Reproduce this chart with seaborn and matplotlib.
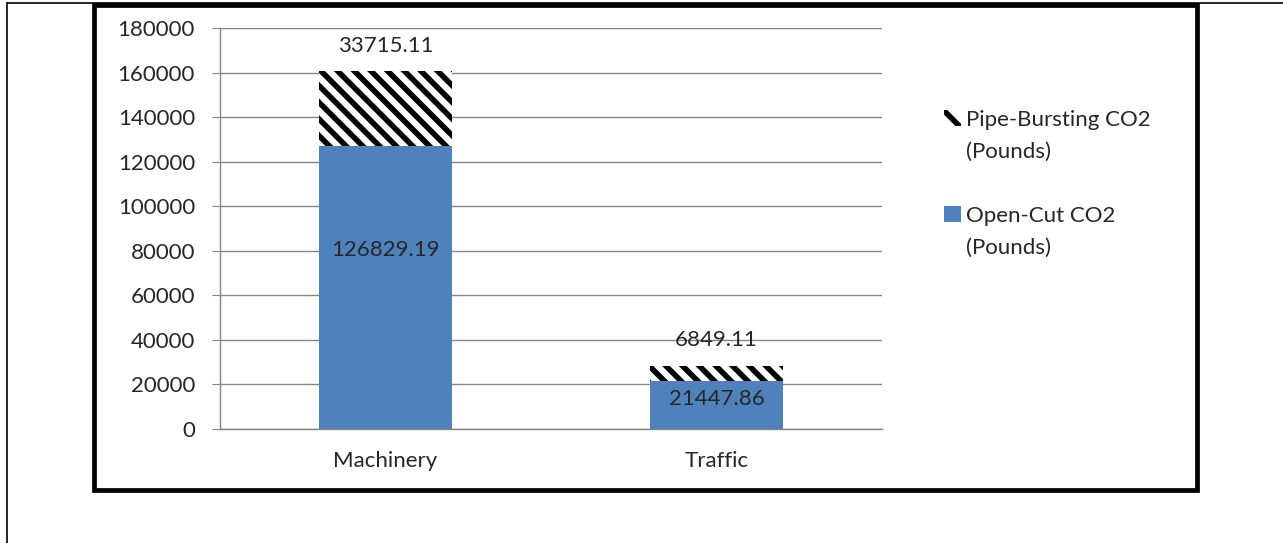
import matplotlib
matplotlib.use("Agg")
import matplotlib.pyplot as plt
from matplotlib.patches import Patch, Rectangle
from matplotlib.lines import Line2D
import pandas as pd
import seaborn as sns

categories = ["Machinery", "Traffic"]
open_cut = [126829.19, 21447.86]
pipe_bursting = [33715.11, 6849.11]
series_names = ["Pipe-Bursting CO2", "Open-Cut CO2"]
unit_label = "(Pounds)"
y_ticks = [0, 20000, 40000, 60000, 80000, 100000, 120000, 140000, 160000, 180000]

BLUE = "#4F81BD"
GRID = "#868686"

sns.set_style("white")
plt.rcParams["font.family"] = ["Lato", "DejaVu Sans"]
plt.rcParams["hatch.linewidth"] = 4.0
plt.rcParams["hatch.color"] = "black"

df = pd.DataFrame({"category": categories, "open": open_cut, "pipe": pipe_bursting})
df["total"] = df["open"] + df["pipe"]

W, H = 1283, 543
fig = plt.figure(figsize=(W / 100, H / 100), dpi=100)
ax = fig.add_axes([220 / W, 1 - 429 / H, (882 - 220) / W, (429 - 28) / H])

# stacked: hatched total underneath, open-cut drawn on top
sns.barplot(data=df, x="category", y="total", color="white", hatch="\\\\",
            edgecolor="black", linewidth=0, width=0.4, saturation=1, ax=ax)
sns.barplot(data=df, x="category", y="open", color=BLUE, linewidth=0,
            width=0.4, saturation=1, ax=ax)

ax.set_ylim(0, 180000)
ax.set_xlim(-0.5, 1.5)
ax.set_yticks(y_ticks)
ax.set_yticklabels([str(t) for t in y_ticks])
ax.set_xlabel("")
ax.set_ylabel("")
ax.set_axisbelow(True)
ax.yaxis.grid(True, color=GRID, lw=1)
ax.xaxis.grid(False)
for s in ["top", "right"]:
    ax.spines[s].set_visible(False)
for s in ["left", "bottom"]:
    ax.spines[s].set_color(GRID)
    ax.spines[s].set_linewidth(1)

ax.set_xticks([-0.5, 0.5, 1.5], minor=True)
ax.tick_params(axis="x", which="major", length=0, pad=16, labelsize=16)
ax.tick_params(axis="x", which="minor", length=6, color=GRID, direction="out")
ax.tick_params(axis="y", length=6, color=GRID, direction="out", left=True,
               pad=12, labelsize=16)

for i, row in df.iterrows():
    ax.text(i, row["total"] + 11500, f"{row['pipe']:.2f}", ha="center",
            va="center", fontsize=16)
    ax.text(i, row["open"] * 0.635, f"{row['open']:.2f}", ha="center",
            va="center", fontsize=16)

# legend: each entry wraps onto a second line, handle beside the first line
blank = Patch(facecolor="none", edgecolor="none")
handles = [Patch(facecolor="white", edgecolor="black", hatch="\\", lw=0),
           blank, blank,
           Patch(facecolor=BLUE, lw=0),
           blank]
labels = [series_names[0], unit_label, "", series_names[1], unit_label]
fig.legend(handles, labels, loc="upper left",
           bbox_to_anchor=(924 / W, 1 - 90 / H), frameon=False, fontsize=16,
           handlelength=0.75, handleheight=0.75, handletextpad=0.25,
           labelspacing=0.54)

# outer frames
fig.add_artist(Rectangle((94 / W, 1 - 490 / H), (1197 - 94) / W, (490 - 5) / H,
                         transform=fig.transFigure, fill=False, lw=3.4,
                         ec="black"))
fig.add_artist(Line2D([7 / W, 7 / W], [0, 1 - 3 / H], transform=fig.transFigure,
                      color="black", lw=1.2))
fig.add_artist(Line2D([7 / W, 1], [1 - 3 / H, 1 - 3 / H],
                      transform=fig.transFigure, color="black", lw=1.2))

fig.savefig("out.png", dpi=100)
